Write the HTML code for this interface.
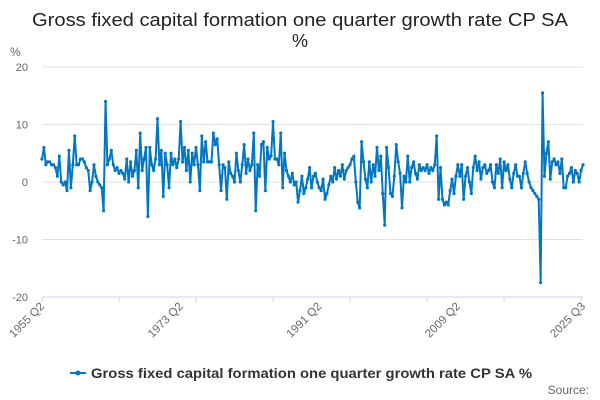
<!DOCTYPE html>
<html><head><meta charset="utf-8"><style>
body{margin:0;background:#fff;font-family:"Liberation Sans",sans-serif}
svg{display:block}
</style></head><body>
<svg id="chart" width="600" height="400" xmlns="http://www.w3.org/2000/svg">
<text x="300" y="26" text-anchor="middle" font-size="18" fill="#222" textLength="536" lengthAdjust="spacingAndGlyphs">Gross fixed capital formation one quarter growth rate CP SA</text>
<text x="300" y="47" text-anchor="middle" font-size="18" fill="#222">%</text>
<text x="10" y="56" font-size="12" fill="#666">%</text>
<g id="grid"></g><g id="xaxis"></g><g id="series"></g>
<g>
<line x1="70" y1="373" x2="86" y2="373" stroke="#0077c0" stroke-width="2"/>
<circle cx="78" cy="373" r="2.5" fill="#0077c0"/>
<text x="91" y="378" font-size="14" font-weight="bold" fill="#333" textLength="441" lengthAdjust="spacingAndGlyphs">Gross fixed capital formation one quarter growth rate CP SA %</text>
</g>
<text x="589" y="394" text-anchor="end" font-size="12" fill="#666">Source:</text>
</svg>
<script>
const seg1=[4,6,3,3.5,3.5,3,3,2.5,1,4.5,0,-0.5,0,-1.5,5.5,-1,3,8,3,3,4,4,3.5,2.5,2,-1.5,0,3,1,0,-0.5,-1,-5,14,3,4,5.5,3,2,2.5,1.5,2,1.5,0.5,4,0,3.5,1,2,5.5,-1,8.5,2,4,6,-6,6,3,2,4,11,3,5.5,-2.5,5,3,-1,5,3,4,2.5,4];
const seg2=[10.5,3.5,6,2,5.5,0,5,3,6,3,-1.5,8,3.5,7,3.5,3.5,3.5,8.5,6.5,7.5,3,-1.5,3,2.5,-3,3.5,1.5,1,0,5,2,0,3,6.5,1.5,4,2,3,8.5,-5,3,1,6.5,7,-1.5,6,4,4.5,10.5,4,4,3,8.5,-1,5,2,1,0,1.5,-0.5,0,-3.5,-1.5,1,-2,-1,0.5,2.5,-1,1,1.5,0];
const seg3=[-1,-1.5,0.5,-3,-2,-0.5,1,0,2.5,0.5,2,1,3,0.5,2,2.5,3,4,4.5,0,-3.5,-4.5,7,3.5,0.5,-1,3.5,0,3,1,6,2,4.5,-2,-7.5,6,2.5,-2,-2.5,1,6.5,3.5,1.5,-4.5,1,0,4.5,0,2.5,3.5,1.5,0.5,3,2,2.5,2,3,1.5,2.5,2,3,8,-3,2.5,-3,-4,-3.5,-4,-1.5,0.5,-2,1];
const seg4=[3,1,3,-3,1,2.5,0,-2,2.5,4.5,2,3.5,0.5,2.5,3,1.5,2,3,0,-1,3,1.5,4,-1,3.5,2,3,0.5,-1,1.5,3,1,1,-1,1.5,3.5,1.5,0,-1,-1.5,-2,-2.5,-3,-17.5,15.5,1,5,7,0.5,3.5,4,3,3.5,1.5,4,-1,-1,1,1.5,2.5,0,2,1.5,0,2,3];
const values=seg1.concat(seg2,seg3,seg4);
const yTicks=[20,10,0,-10,-20];
const xTickLabels=["1955 Q2","1973 Q2","1991 Q2","2009 Q2","2025 Q3"];
const xTickIndex=[0,72,144,216,281];
const NS="http://www.w3.org/2000/svg";
const X0=42,X1=583,Y0=67,Y1=297;
const xs=i=>X0+(X1-X0)*i/(values.length-1);
const ys=v=>Y0+(20-v)/40*(Y1-Y0);
function mk(t,a,p){const e=document.createElementNS(NS,t);for(const k in a)e.setAttribute(k,a[k]);p.appendChild(e);return e;}
const grid=document.getElementById('grid');
yTicks.forEach(v=>{
 const l=mk('line',{x1:X0,x2:X1,y1:ys(v),y2:ys(v),stroke:'#e0e0e0'},grid);
 
 
 const t=mk('text',{x:28,y:ys(v)+4,'text-anchor':'end','font-size':11,fill:'#666'},grid);
 t.textContent=v;
 
 
});
const xa=document.getElementById('xaxis');
const ax=mk('line',{x1:X0,x2:X1,y1:Y1,y2:Y1,stroke:'#ccd6eb'},xa);


for(let y=0;y<=70;y+=10){const x=xs(y*4);mk('line',{x1:x,x2:x,y1:Y1,y2:Y1+5,stroke:'#ccd6eb'},xa);}
xTickLabels.forEach((s,k)=>{
 const x=xs(xTickIndex[k]);
 const t=mk('text',{x:x+3,y:Y1+10,'text-anchor':'end','font-size':11.5,fill:'#666',transform:`rotate(-45 ${x+3} ${Y1+10})`},xa);
 t.textContent=s;
 
 
});
const sg=document.getElementById('series');
const pl=mk('polyline',{points:values.map((v,i)=>xs(i)+','+ys(v)).join(' '),fill:'none',stroke:'#0077c0','stroke-width':2,'stroke-linejoin':'round'},sg);


values.forEach((v,i)=>{
 const c=mk('circle',{cx:xs(i),cy:ys(v),r:1.6,fill:'#0077c0'},sg);
 
 
});
</script>
</body></html>
